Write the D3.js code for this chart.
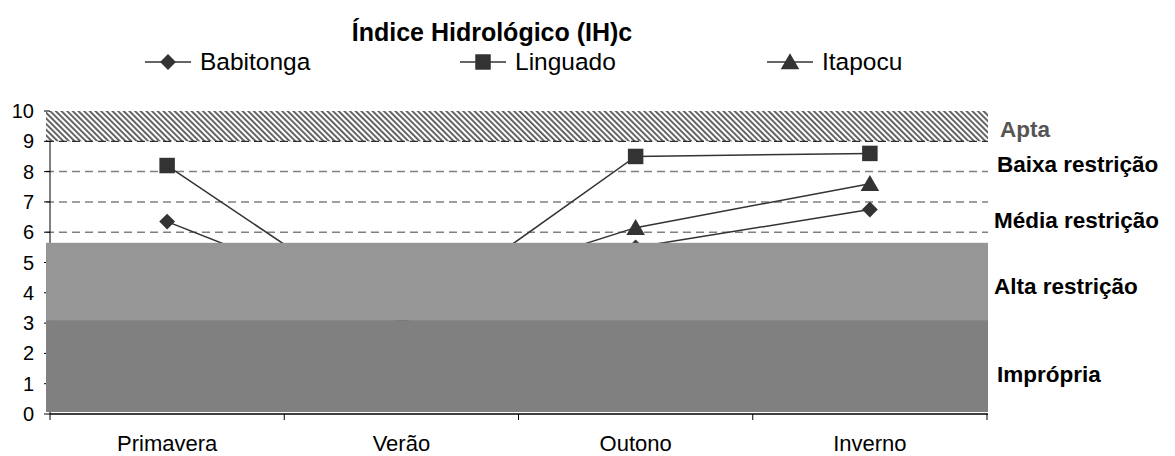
<!DOCTYPE html>
<html>
<head>
<meta charset="utf-8">
<script src="https://cdn.jsdelivr.net/npm/d3@7"></script>
<style>
  body { margin: 0; background: #fff; }
  text { font-family: "Liberation Sans", Arial, sans-serif; }
</style>
</head>
<body>
<svg id="chart" width="1175" height="456"></svg>
<script>
// data
var seasons = ["Primavera", "Verão", "Outono", "Inverno"];
var babitonga = [6.35, 3.3, 5.5, 6.75];
var linguado = [8.2, 3.0, 8.5, 8.6];
var itapocu = [4.5, 3.7, 6.15, 7.6];
var yTicks = [0, 1, 2, 3, 4, 5, 6, 7, 8, 9, 10];
var gridLevels = [6, 7, 8];
// class bands
var bandFrom = [0, 3.1, 5.65, 9];
var bandTo = [3.1, 5.65, 9, 10];
var classLabels = ["Imprópria", "Alta restrição", "Média restrição", "Baixa restrição", "Apta"];
var classLabelY = [1.06, 3.96, 6.14, 7.99, 9.14];

var svg = d3.select("#chart");
var x = d3.scaleBand().domain(seasons).range([50, 987]);
var y = d3.scaleLinear().domain([0, 10]).range([414, 111]);
var x0 = 46, x1 = 988;

// hatch pattern
var defs = svg.append("defs");
var pat = defs.append("pattern").attr("id", "hatch").attr("patternUnits", "userSpaceOnUse")
  .attr("width", 4).attr("height", 4).attr("patternTransform", "rotate(-45)");
pat.append("rect").attr("width", 4).attr("height", 4).attr("fill", "#fff");
pat.append("rect").attr("width", 1.8).attr("height", 4).attr("fill", "#555");

svg.append("rect").attr("x", x0).attr("y", y(10)).attr("width", x1 - x0)
  .attr("height", y(9) - y(10)).attr("fill", "url(#hatch)");

// grid
svg.selectAll(".grid").data(gridLevels).enter().append("line")
  .attr("x1", x0).attr("x2", x1).attr("y1", function(d) { return y(d); }).attr("y2", function(d) { return y(d); })
  .attr("stroke", "#808080").attr("stroke-width", 1.5).attr("stroke-dasharray", "8,5");
svg.append("line").attr("x1", x0).attr("x2", x1).attr("y1", y(9)).attr("y2", y(9))
  .attr("stroke", "#000").attr("stroke-width", 1).attr("stroke-dasharray", "8,5");

// y axis
svg.append("line").attr("x1", 50).attr("x2", 50).attr("y1", y(9)).attr("y2", y(0)).attr("stroke", "#000");
svg.selectAll(".ytick").data(yTicks).enter().append("line")
  .attr("x1", 44).attr("x2", 50).attr("y1", function(d) { return y(d); }).attr("y2", function(d) { return y(d); })
  .attr("stroke", "#000");
svg.selectAll(".ylab").data(yTicks).enter().append("text")
  .attr("x", 34).attr("y", function(d) { return y(d) + 7; }).attr("text-anchor", "end")
  .attr("font-size", 20).text(function(d) { return d; });

// series
var series = [
  { name: "Babitonga", values: babitonga, shape: d3.symbolSquare, size: 125, rot: 45, dy: 0 },
  { name: "Linguado", values: linguado, shape: d3.symbolSquare, size: 240, rot: 0, dy: 0 },
  { name: "Itapocu", values: itapocu, shape: d3.symbolTriangle, size: 150, rot: 0, dy: 2 }
];
var line = d3.line().x(function(d, i) { return x(seasons[i]) + x.bandwidth() / 2; }).y(function(d) { return y(d); });
series.forEach(function(s) {
  svg.append("path").attr("d", line(s.values)).attr("fill", "none").attr("stroke", "#333").attr("stroke-width", 1.5);
  svg.selectAll(null).data(s.values).enter().append("path")
    .attr("d", d3.symbol().type(s.shape).size(s.size))
    .attr("transform", function(d, i) {
      return "translate(" + (x(seasons[i]) + x.bandwidth() / 2) + "," + (y(d) + s.dy) + ") rotate(" + s.rot + ")";
    })
    .attr("fill", "#333");
});

// opaque class bands cover the lines
svg.append("rect").attr("x", x0).attr("y", y(bandTo[1])).attr("width", x1 - x0)
  .attr("height", y(bandFrom[1]) - y(bandTo[1])).attr("fill", "#969696");
svg.append("rect").attr("x", x0).attr("y", y(bandTo[0])).attr("width", x1 - x0)
  .attr("height", y(bandFrom[0]) - y(bandTo[0]) - 2).attr("fill", "#808080");

// x axis
svg.append("line").attr("x1", 50).attr("x2", x1).attr("y1", 414).attr("y2", 414).attr("stroke", "#000").attr("stroke-width", 1.5);
var bounds = seasons.map(function(s) { return x(s); }).concat([x.range()[1]]);
svg.selectAll(".xtick").data(bounds).enter().append("line")
  .attr("x1", function(d) { return d; }).attr("x2", function(d) { return d; })
  .attr("y1", 414).attr("y2", 420).attr("stroke", "#000");
svg.selectAll(".xlab").data(seasons).enter().append("text")
  .attr("x", function(d) { return x(d) + x.bandwidth() / 2; }).attr("y", 451)
  .attr("text-anchor", "middle").attr("font-size", 22).text(function(d) { return d; });

// class labels
svg.selectAll(".cls").data(classLabels).enter().append("text")
  .attr("x", function(d, i) { return i == 4 ? 1000 : (i == 0 || i == 3 ? 997 : 994); })
  .attr("y", function(d, i) { return y(classLabelY[i]); })
  .attr("font-size", 22.5).attr("font-weight", "bold")
  .attr("fill", function(d, i) { return i == 4 ? "#555" : "#000"; })
  .text(function(d) { return d; });

// title
svg.append("text").attr("x", 492).attr("y", 41).attr("text-anchor", "middle")
  .attr("font-size", 25).attr("font-weight", "bold").text("Índice Hidrológico (IH)c");

// legend
var legX = [168, 483, 790];
series.forEach(function(s, i) {
  var g = svg.append("g").attr("transform", "translate(" + legX[i] + ",62)");
  g.append("line").attr("x1", -23).attr("x2", 23).attr("stroke", "#333").attr("stroke-width", 1.5);
  g.append("path").attr("d", d3.symbol().type(s.shape).size(s.size)).attr("fill", "#333")
    .attr("transform", "translate(0," + s.dy + ") rotate(" + s.rot + ")");
  g.append("text").attr("x", 32).attr("y", 8).attr("font-size", 24.5).text(s.name);
});
</script>
</body>
</html>
